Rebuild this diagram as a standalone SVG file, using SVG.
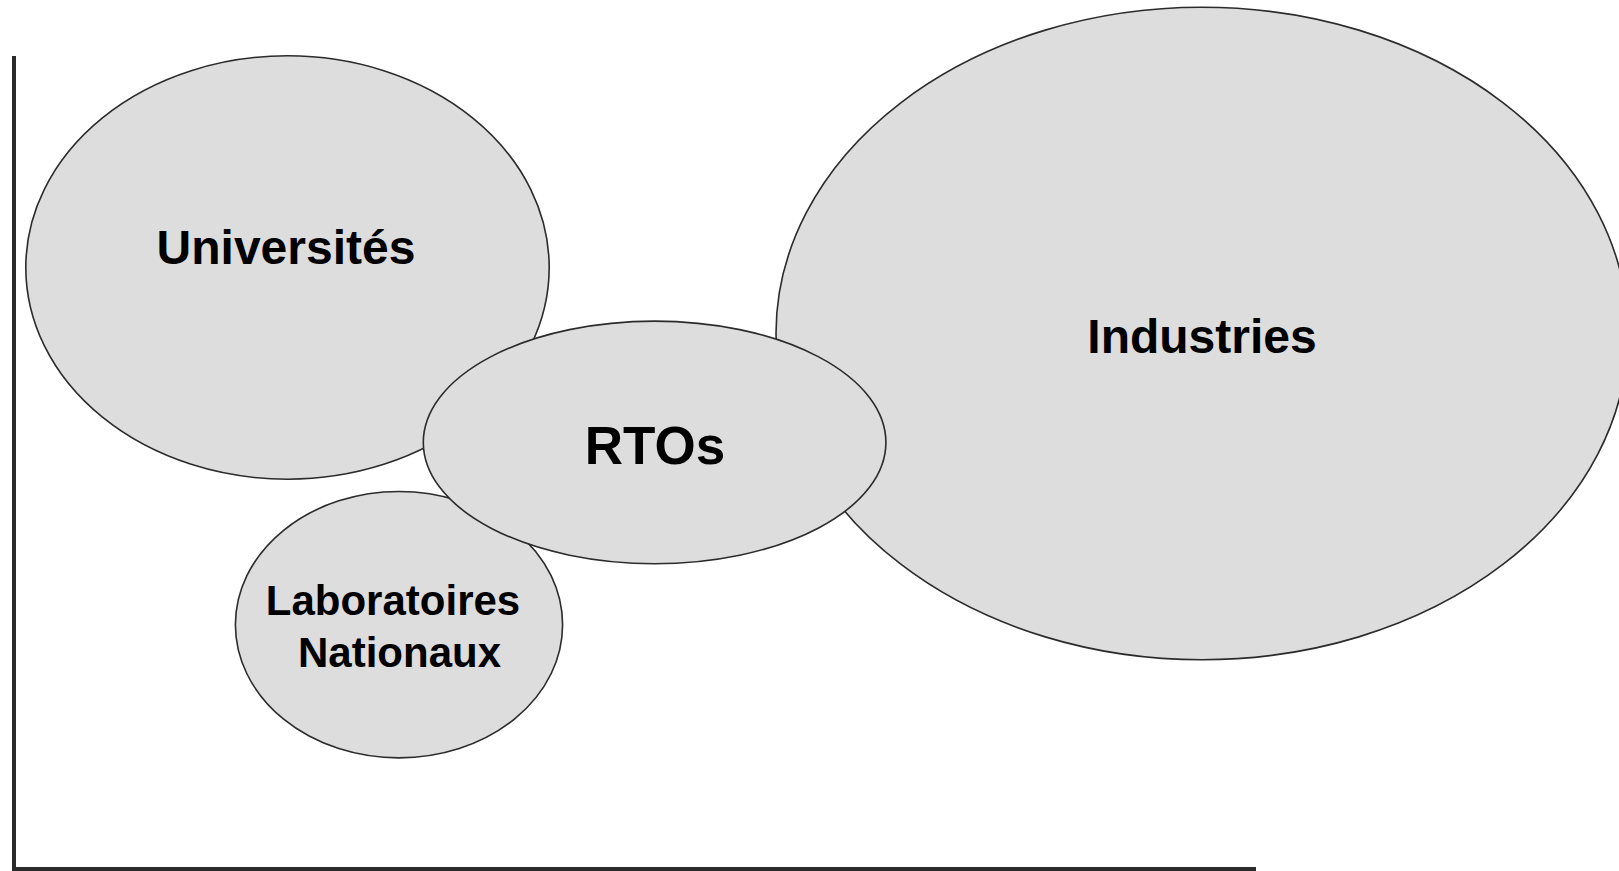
<svg xmlns="http://www.w3.org/2000/svg" width="1619" height="871" viewBox="0 0 1619 871">
  <style>
    .bubble { fill: #dddddd; stroke: #2b2b2b; stroke-width: 1.6; }
    .axis { stroke: #2b2b2b; stroke-width: 4; fill: none; }
    .label { font-family: "Liberation Sans", Arial, sans-serif; font-weight: bold; fill: #000000; text-anchor: middle; }
  </style>
  <rect width="1619" height="871" fill="#ffffff"/>

  <!-- axes -->
  <g id="axes">
    <line class="axis" x1="14" y1="56" x2="14" y2="871"/>
    <line class="axis" x1="14" y1="869" x2="1256" y2="869"/>
  </g>

  <g id="universites">
    <ellipse class="bubble" cx="287.5" cy="267.5" rx="261.7" ry="211.7"/>
    <text class="label" x="286" y="264" font-size="48">Universités</text>
  </g>

  <g id="industries">
    <ellipse class="bubble" cx="1202" cy="333.5" rx="426" ry="326.3"/>
    <text class="label" x="1202" y="353" font-size="48">Industries</text>
  </g>

  <g id="laboratoires">
    <ellipse class="bubble" cx="399" cy="624.7" rx="163.6" ry="133.2"/>
    <text class="label" x="393" y="615" font-size="42">Laboratoires</text>
    <text class="label" x="399.5" y="667" font-size="42">Nationaux</text>
  </g>

  <g id="rtos">
    <ellipse class="bubble" cx="654.6" cy="442.4" rx="231.3" ry="121.3"/>
    <text class="label" x="655" y="463.5" font-size="53">RTOs</text>
  </g>

  <!-- no connectors in this figure -->
  <g id="connectors"/>
</svg>
